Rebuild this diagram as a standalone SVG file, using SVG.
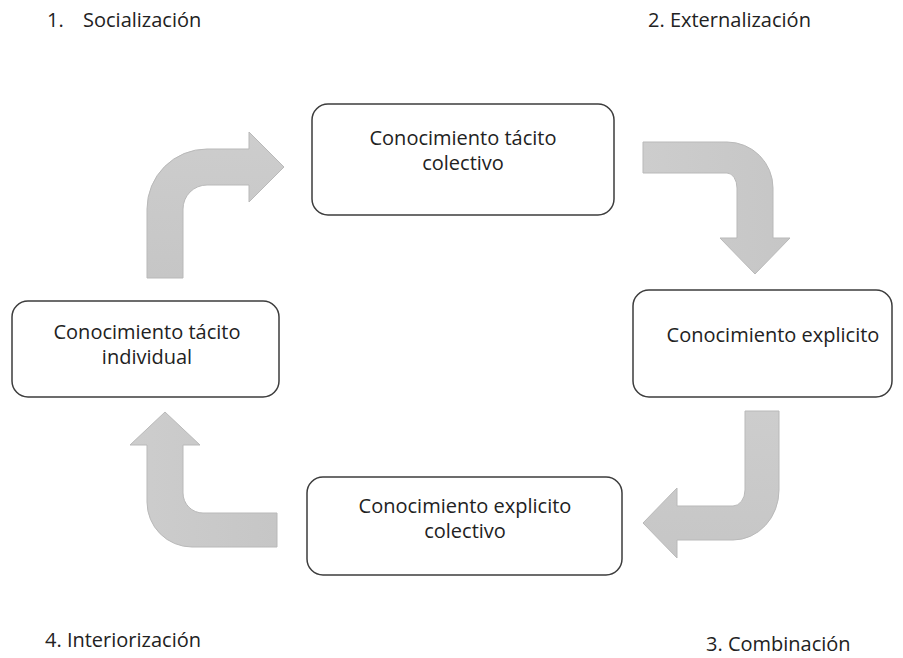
<svg xmlns="http://www.w3.org/2000/svg" width="903" height="658" viewBox="0 0 903 658">
<style>
.box{fill:#ffffff;stroke:#3c3c3c;stroke-width:1.5}
.t{font-family:"Open Sans","Liberation Sans",sans-serif;font-size:20px;fill:#222222}
.c{text-anchor:middle}
.arr{stroke:#b9b9b9;stroke-width:1}
</style>
<defs>
<linearGradient id="gh" x1="0" y1="0" x2="1" y2="0"><stop offset="0" stop-color="#cdcdcd"/><stop offset="1" stop-color="#c6c6c6"/></linearGradient>
<linearGradient id="gv" x1="0" y1="0" x2="0" y2="1"><stop offset="0" stop-color="#cdcdcd"/><stop offset="1" stop-color="#c6c6c6"/></linearGradient>
</defs>
<rect width="903" height="658" fill="#ffffff"/>
<g id="labels">
<text class="t" x="47" y="27">1.</text>
<text class="t" x="83" y="27">Socialización</text>
<text class="t" x="648" y="27">2. Externalización</text>
<text class="t" x="45" y="647">4. Interiorización</text>
<text class="t" x="706" y="651">3. Combinación</text>
</g>
<g id="connectors">
<path class="arr" fill="url(#gv)" d="M147,278 L147,209 A60,60 0 0 1 207,149 L249,149 L249,132 L284,167 L249,202 L249,185 L207,185 A24,24 0 0 0 183,209 L183,278 Z"/>
<path class="arr" fill="url(#gh)" d="M643,142 L727,142 A46,46 0 0 1 773,188 L773,238 L790,238 L755,274 L720,238 L737,238 L737,188 A10,15 0 0 0 727,173 L643,173 Z"/>
<path class="arr" fill="url(#gv)" d="M745,411 L779,411 L779,490 A46,50 0 0 1 733,540 L677,540 L677,558 L643,523 L677,488 L677,506 L733,506 A12,16 0 0 0 745,490 Z"/>
<path class="arr" fill="url(#gh)" d="M277,513 L203,513 A20,20 0 0 1 183,493 L183,445 L200,445 L165,412 L130,445 L147,445 L147,502 A45,45 0 0 0 192,547 L277,547 Z"/>
</g>
<g id="node-tacito-colectivo">
<rect class="box" x="312" y="104" width="302" height="111" rx="16"/>
<text class="t c" x="463" y="145">Conocimiento tácito</text>
<text class="t c" x="463" y="170">colectivo</text>
</g>
<g id="node-explicito">
<rect class="box" x="633" y="290" width="259" height="107" rx="16"/>
<text class="t c" x="773" y="342">Conocimiento explicito</text>
</g>
<g id="node-explicito-colectivo">
<rect class="box" x="307" y="477" width="315" height="98" rx="16"/>
<text class="t c" x="465" y="513">Conocimiento explicito</text>
<text class="t c" x="465" y="538">colectivo</text>
</g>
<g id="node-tacito-individual">
<rect class="box" x="12" y="301" width="267" height="96" rx="16"/>
<text class="t c" x="147" y="339">Conocimiento tácito</text>
<text class="t c" x="147" y="364">individual</text>
</g>
</svg>
